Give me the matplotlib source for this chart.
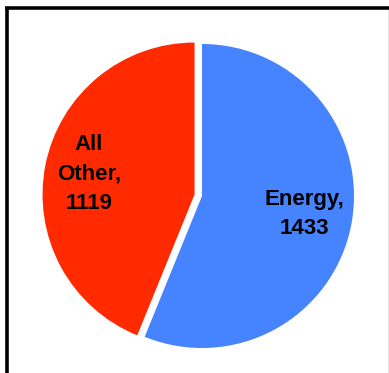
import matplotlib.pyplot as plt
from matplotlib.lines import Line2D

categories = ['Energy', 'All\nOther']
values = [1433, 1119]
colors = ['#4583FF', '#FF2A00']
explode = [0, 0.05]

W, H = 389, 373
fig = plt.figure(figsize=(W / 100, H / 100), dpi=100)
ax = fig.add_axes([0, 0, 1, 1])

ax.pie(values, colors=colors, explode=explode, startangle=90,
       counterclock=False, wedgeprops=dict(linewidth=0))

# pie radius ~152 px, centre at (202, 196) px from top-left
r, cx, cy = 152, 202, 196
ax.set_xlim(-cx / r, (W - cx) / r)
ax.set_ylim(-(H - cy) / r, cy / r)
ax.set_aspect('auto')
ax.axis('off')

label_pos = [(304, 214), (89, 174)]
for name, val, (px, py) in zip(categories, values, label_pos):
    ax.text((px - cx) / r, (cy - py) / r, f'{name},\n{val}',
            ha='center', va='center', fontsize=16, fontweight='bold',
            family='Liberation Sans', linespacing=1.55)

# outer frame (only top and left edges fall inside the image)
lw = 2.6
fig.add_artist(Line2D([5 / W, 1.0], [1 - 8 / H, 1 - 8 / H], color='black',
                      lw=lw, transform=fig.transFigure, solid_capstyle='butt'))
fig.add_artist(Line2D([7 / W, 7 / W], [0, 1 - 6.5 / H], color='black',
                      lw=lw, transform=fig.transFigure, solid_capstyle='butt'))
fig.add_artist(Line2D([387.5 / W, 387.5 / W], [0, 1 - 9.5 / H], color='#e4e4e4',
                      lw=0.8, transform=fig.transFigure))

fig.savefig('out.png', dpi=100)
